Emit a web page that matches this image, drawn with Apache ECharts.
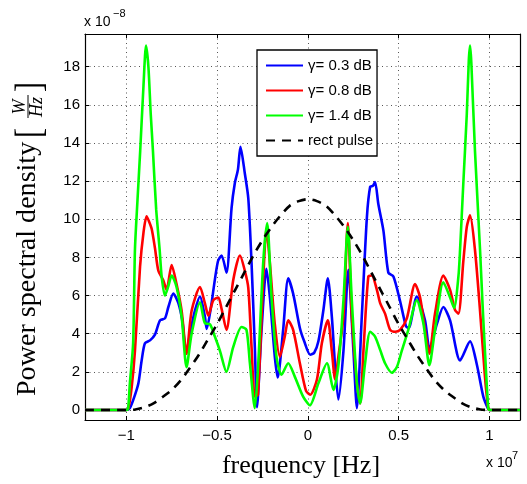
<!DOCTYPE html>
<html><head><meta charset="utf-8">
<script src="https://cdn.jsdelivr.net/npm/echarts@6/dist/echarts.min.js"></script>
<style>html,body{margin:0;padding:0;background:#fff}#c{width:527px;height:484px}</style>
</head><body><div id="c"></div>
<script>
// frequency in units of 1e7 Hz, PSD in units of 1e-8 W/Hz
const xTicks = [-1, -0.5, 0, 0.5, 1];
const yTicks = [0, 2, 4, 6, 8, 10, 12, 14, 16, 18];
const seriesNames = ['γ= 0.3 dB', 'γ= 0.8 dB', 'γ= 1.4 dB', 'rect pulse'];

const freqBlue = [-1.227,-1.0,-0.98,-0.955,-0.933,-0.915,-0.897,-0.869,-0.842,-0.814,-0.787,-0.768,-0.741,-0.713,-0.69,-0.671,-0.645,-0.622,-0.594,-0.567,-0.557,-0.53,-0.52,-0.495,-0.475,-0.448,-0.42,-0.402,-0.385,-0.371,-0.347,-0.328,-0.31,-0.292,-0.28,-0.255,-0.228,-0.209,-0.182,-0.166,-0.136,-0.108,-0.081,-0.044,-0.02,0.013,0.035,0.058,0.085,0.11,0.132,0.15,0.168,0.196,0.223,0.251,0.27,0.297,0.325,0.343,0.358,0.37,0.388,0.416,0.443,0.471,0.508,0.54,0.555,0.6,0.645,0.67,0.71,0.746,0.783,0.838,0.893,0.93,0.966,0.993,1.0,1.168];
const psdBlue  = [0,0,0.1,0.7,1.4,2.6,3.5,3.65,3.95,4.7,4.8,5.4,6.1,5.6,4.6,2.95,4.2,5.2,5.95,4.9,4.25,5.6,6.3,7.8,8.1,7.2,10.6,11.9,12.6,13.8,12.4,11.1,7.7,3.3,0.15,4.2,7.4,5.9,2.8,1.7,4.2,6.9,6.1,4.3,3.6,2.9,3.0,3.6,5.2,6.9,4.9,2.3,0.55,3.1,7.35,3.1,0.1,4.9,10.1,11.7,11.75,11.95,10.8,9.4,7.2,7.0,5.7,4.4,4.3,5.95,4.7,3.2,4.5,5.4,4.7,2.6,3.6,2.4,0.7,0.05,0,0];

const freqRed = [-1.227,-1.0,-0.988,-0.97,-0.952,-0.924,-0.905,-0.888,-0.875,-0.86,-0.842,-0.823,-0.796,-0.778,-0.75,-0.723,-0.695,-0.668,-0.64,-0.594,-0.567,-0.548,-0.521,-0.493,-0.475,-0.448,-0.411,-0.374,-0.347,-0.328,-0.31,-0.292,-0.275,-0.246,-0.228,-0.209,-0.182,-0.154,-0.127,-0.108,-0.081,-0.044,-0.01,0.013,0.05,0.077,0.11,0.132,0.15,0.168,0.196,0.22,0.242,0.27,0.288,0.306,0.333,0.352,0.38,0.398,0.425,0.453,0.48,0.508,0.545,0.59,0.618,0.645,0.669,0.7,0.746,0.783,0.81,0.829,0.856,0.875,0.893,0.92,0.948,0.975,0.993,1.0,1.168];
const psdRed  = [0,0,0.1,1.2,3.1,7.5,9.3,10.15,9.9,9.5,8.5,7.3,6.8,6.3,7.6,6.6,5.2,2.95,5.2,6.45,5.6,4.95,5.75,5.9,5.3,4.2,6.8,8.1,7.3,6.4,3.3,0.7,0.8,6.8,9.5,7.7,4.5,2.8,3.85,4.7,4.2,2.45,1.0,0.8,1.6,3.5,4.7,3.1,1.6,2.8,4.9,9.8,4.9,1.4,0.35,3.1,7.0,7.05,6.3,5.6,5.05,4.2,4.1,4.2,4.8,6.6,5.9,4.2,2.95,5.05,7.05,6.3,5.25,5.05,7.8,9.6,10.2,8.4,5.2,1.75,0.1,0,0];

const freqGreen = [-1.227,-1.0,-0.99,-0.98,-0.962,-0.952,-0.938,-0.923,-0.905,-0.891,-0.878,-0.865,-0.853,-0.835,-0.816,-0.805,-0.787,-0.768,-0.75,-0.723,-0.695,-0.668,-0.64,-0.594,-0.567,-0.539,-0.512,-0.484,-0.448,-0.411,-0.365,-0.338,-0.319,-0.292,-0.273,-0.246,-0.224,-0.2,-0.173,-0.145,-0.108,-0.072,-0.026,0.011,0.058,0.105,0.141,0.168,0.196,0.22,0.242,0.27,0.288,0.315,0.343,0.37,0.398,0.425,0.462,0.49,0.517,0.553,0.6,0.636,0.669,0.7,0.746,0.783,0.805,0.829,0.838,0.856,0.875,0.886,0.893,0.9,0.92,0.948,0.962,0.975,0.993,1.0,1.168];
const psdGreen  = [0,0,0.05,1.4,3.5,8.4,11.0,13.6,17.0,19.1,18.0,15.5,13.6,10.5,8.4,7.0,6.0,6.5,7.05,6.45,4.9,2.25,4.0,5.65,4.55,4.5,3.85,3.1,2.0,3.3,4.35,4.2,2.45,0.1,2.45,7.7,9.8,5.9,2.8,1.85,2.45,1.75,0.7,0.25,1.4,2.45,1.05,2.3,5.75,9.6,5.75,1.4,0.35,2.45,4.1,3.85,3.15,2.45,1.95,2.25,3.1,4.2,5.75,4.55,2.35,4.2,6.7,5.9,5.35,7.0,8.4,11.9,15.5,18.3,19.1,18.2,13.6,8.4,5.5,3.1,0.1,0,0];

const freqRect = [-1.227,-1.0,-0.95,-0.9,-0.85,-0.8,-0.75,-0.7,-0.65,-0.6,-0.55,-0.5,-0.45,-0.4,-0.35,-0.3,-0.25,-0.2,-0.15,-0.1,-0.05,0,0.05,0.1,0.15,0.2,0.25,0.3,0.35,0.4,0.45,0.5,0.55,0.6,0.65,0.7,0.75,0.8,0.85,0.9,0.95,1.0,1.168];
const psdRect  = [0,0,0.03,0.14,0.35,0.68,1.05,1.55,2.2,2.9,3.7,4.5,5.4,6.3,7.2,8.1,8.9,9.6,10.2,10.7,10.95,11.05,10.95,10.7,10.2,9.6,8.9,8.1,7.2,6.3,5.4,4.5,3.7,2.9,2.2,1.55,1.05,0.68,0.35,0.14,0.03,0,0];

const pairs = (xs, ys) => xs.map((x, i) => [x, ys[i]]);

const chart = echarts.init(document.getElementById('c'), null, {renderer: 'canvas'});
const sans = 'Liberation Sans, Arial, Helvetica, sans-serif';
const serif = 'Liberation Serif, Times New Roman, serif';
const fmtMinus = v => (v < 0 ? '\u2212' + Math.abs(v) : String(v));

const xBase = {
  type: 'value', min: -1.227, max: 1.168,
  axisLine: {show: true, onZero: false, lineStyle: {color: '#000', width: 1.2}},
  axisTick: {show: true, inside: true, length: 4, customValues: xTicks, lineStyle: {color: '#000', width: 1}},
  splitLine: {show: false}
};
const yBase = {
  type: 'value', min: -0.524, max: 19.71,
  axisLine: {show: true, onZero: false, lineStyle: {color: '#000', width: 1.2}},
  axisTick: {show: true, inside: true, length: 4, customValues: yTicks, lineStyle: {color: '#000', width: 1}},
  splitLine: {show: false}
};

const gridDots = {show: true, lineStyle: {color: '#555', width: 1, type: [1, 3.5]}};

const option = {
  animation: false,
  backgroundColor: '#fff',
  grid: {left: 85, right: 7, top: 34, bottom: 64, outerBoundsMode: 'none', containLabel: false},
  xAxis: [
    Object.assign({}, xBase, {
      position: 'bottom',
      splitLine: gridDots,
      axisLabel: {show: true, customValues: xTicks, formatter: fmtMinus, color: '#000', fontSize: 15, fontFamily: sans, margin: 8}
    }),
    Object.assign({}, xBase, {position: 'top', axisLabel: {show: false}})
  ],
  yAxis: [
    Object.assign({}, yBase, {
      position: 'left',
      splitLine: gridDots,
      axisLabel: {show: true, customValues: yTicks, color: '#000', fontSize: 15, fontFamily: sans, margin: 5}
    }),
    Object.assign({}, yBase, {position: 'right', axisLabel: {show: false}})
  ],
  legend: {
    orient: 'vertical', left: 257, top: 50,
    data: seriesNames,
    itemWidth: 37, itemHeight: 14, itemGap: 10,
    padding: [8, 4, 8, 8],
    backgroundColor: '#fff', borderColor: '#000', borderWidth: 1.3,
    textStyle: {color: '#000', fontSize: 15, fontFamily: sans},
    itemStyle: {opacity: 0, borderWidth: 0}
  },
  series: [
    {name: seriesNames[0], type: 'line', data: pairs(freqBlue, psdBlue), showSymbol: false, symbol: 'none', smooth: 0.25,
     lineStyle: {color: '#0000ff', width: 2.6}, itemStyle: {color: '#0000ff'}, z: 2},
    {name: seriesNames[1], type: 'line', data: pairs(freqRed, psdRed), showSymbol: false, symbol: 'none', smooth: 0.25,
     lineStyle: {color: '#ff0000', width: 2.6}, itemStyle: {color: '#ff0000'}, z: 3},
    {name: seriesNames[2], type: 'line', data: pairs(freqGreen, psdGreen), showSymbol: false, symbol: 'none', smooth: 0.25,
     lineStyle: {color: '#00ff00', width: 2.6}, itemStyle: {color: '#00ff00'}, z: 4},
    {name: seriesNames[3], type: 'line', data: pairs(freqRect, psdRect), showSymbol: false, symbol: 'none', smooth: 0.3,
     lineStyle: {color: '#000', width: 2.6, type: [9, 7]}, itemStyle: {color: '#000'}, z: 5}
  ],
  graphic: [
    {type: 'text', left: 84, top: 15, style: {text: 'x 10', font: '14px ' + sans, fill: '#000'}},
    {type: 'text', left: 113, top: 8, style: {text: '\u22128', font: '11px ' + sans, fill: '#000'}},
    {type: 'text', left: 486, top: 456, style: {text: 'x 10', font: '14px ' + sans, fill: '#000'}},
    {type: 'text', left: 512, top: 450, style: {text: '7', font: '11px ' + sans, fill: '#000'}},
    {type: 'text', x: 301, y: 466, style: {text: 'frequency [Hz]', font: '26px ' + serif, fill: '#000', align: 'center', verticalAlign: 'middle'}},
    {type: 'group', x: 28, y: 396, rotation: Math.PI / 2, children: [
      {type: 'text', x: 0, y: 0, scaleX: 1.04, style: {text: 'Power spectral density', font: '27px ' + serif, fill: '#000', align: 'left', verticalAlign: 'middle'}},
      {type: 'text', x: 263, y: 3, scaleY: 1.25, style: {text: '[', font: '30px ' + serif, fill: '#000', align: 'center', verticalAlign: 'middle'}},
      {type: 'text', x: 289, y: -8, style: {text: 'W', font: 'italic 18px ' + serif, fill: '#000', align: 'center', verticalAlign: 'middle'}},
      {type: 'line', shape: {x1: 278, y1: 0, x2: 301, y2: 0}, style: {stroke: '#000', lineWidth: 1}},
      {type: 'text', x: 289, y: 9, style: {text: 'Hz', font: 'italic 18px ' + serif, fill: '#000', align: 'center', verticalAlign: 'middle'}},
      {type: 'text', x: 309, y: 3, scaleY: 1.25, style: {text: ']', font: '30px ' + serif, fill: '#000', align: 'center', verticalAlign: 'middle'}}
    ]}
  ]
};
chart.setOption(option);
</script></body></html>
